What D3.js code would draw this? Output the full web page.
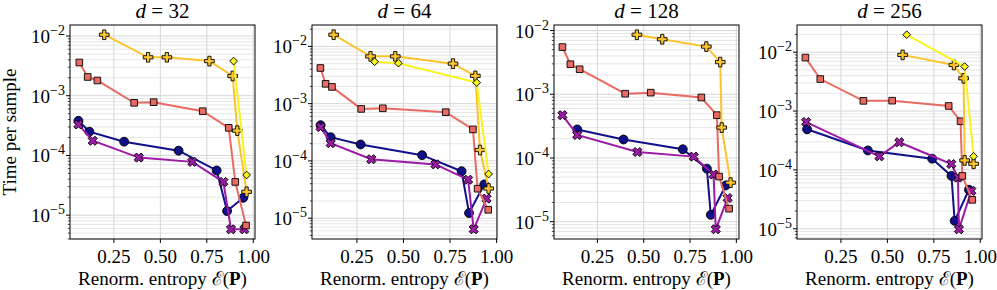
<!DOCTYPE html>
<html>
<head>
<meta charset="utf-8">
<script src="https://cdn.jsdelivr.net/npm/d3@7"></script>
<style>
  body { margin: 0; background: #fff; }
  text { font-family: "Liberation Serif", "DejaVu Serif", serif; fill: #000; }
</style>
</head>
<body>
<svg id="chart" width="997" height="290"></svg>
<script>
// dimensions of each panel
var dims = [32, 64, 128, 256];

// navy circles
var navyX = [[0.059, 0.118, 0.305, 0.598, 0.803, 0.859, 0.946],
             [0.055, 0.109, 0.270, 0.600, 0.812, 0.852, 0.934],
             [0.141, 0.391, 0.711, 0.841, 0.862, 0.943],
             [0.068, 0.395, 0.741, 0.845, 0.862, 0.939]];
var navyY = [[3.8e-4, 2.5e-4, 1.7e-4, 1.2e-4, 5.6e-5, 1.17e-5, 1.95e-5],
             [4.2e-4, 2.6e-4, 1.94e-4, 1.26e-4, 6.6e-5, 1.23e-5, 3.9e-5],
             [2.8e-4, 1.95e-4, 1.37e-4, 6.8e-5, 1.28e-5, 3.7e-5],
             [4.9e-4, 2.14e-4, 1.55e-4, 7.9e-5, 1.36e-5, 4.6e-5]];

// purple crosses
var purpleX = [[0.059, 0.136, 0.384, 0.672, 0.839, 0.880, 0.952],
               [0.055, 0.109, 0.327, 0.672, 0.847, 0.877, 0.946],
               [0.061, 0.141, 0.466, 0.770, 0.877, 0.889, 0.953],
               [0.063, 0.457, 0.564, 0.844, 0.880, 0.885, 0.952]];
var purpleY = [[3.3e-4, 1.76e-4, 9.2e-5, 7.8e-5, 3.6e-5, 5.8e-6, 5.8e-6],
               [3.9e-4, 2.04e-4, 1.07e-4, 8.7e-5, 4.7e-5, 6.4e-6, 2.2e-5],
               [4.7e-4, 2.3e-4, 1.24e-4, 1.05e-4, 5.5e-5, 7.6e-6, 2.35e-5],
               [6.5e-4, 1.7e-4, 2.95e-4, 1.26e-4, 7.4e-5, 9.8e-6, 4.4e-5]];

// salmon squares
var salmonX = [[0.064, 0.109, 0.161, 0.359, 0.464, 0.728, 0.868, 0.903, 0.961],
               [0.054, 0.082, 0.116, 0.273, 0.389, 0.727, 0.873, 0.898, 0.955],
               [0.061, 0.104, 0.154, 0.400, 0.538, 0.811, 0.895, 0.907, 0.961],
               [0.059, 0.139, 0.371, 0.526, 0.830, 0.894, 0.903, 0.957]];
var salmonY = [[3.6e-3, 2.06e-3, 1.8e-3, 7.6e-4, 7.8e-4, 5.5e-4, 2.9e-4, 3.6e-5, 6.7e-6],
               [4.2e-3, 2.22e-3, 1.96e-3, 8.1e-4, 8.3e-4, 7.1e-4, 3.56e-4, 3.27e-5, 1.4e-5],
               [5.5e-3, 2.96e-3, 2.47e-3, 1.02e-3, 1.06e-3, 8.9e-4, 4.7e-4, 5.1e-5, 1.6e-5],
               [8.1e-3, 3.5e-3, 1.49e-3, 1.5e-3, 1.22e-3, 6.7e-4, 7.9e-5, 3.1e-5]];

// orange plus
var orangeX = [[0.198, 0.434, 0.535, 0.764, 0.889, 0.914, 0.964],
               [0.125, 0.323, 0.456, 0.766, 0.886, 0.911, 0.957],
               [0.463, 0.600, 0.838, 0.913, 0.921, 0.969],
               [0.582, 0.858, 0.910, 0.916, 0.964]];
var orangeY = [[1.05e-2, 4.4e-3, 4.4e-3, 3.8e-3, 2.14e-3, 2.6e-4, 2.46e-5],
               [1.6e-2, 6.7e-3, 6.7e-3, 5.0e-3, 3.06e-3, 1.55e-4, 3.3e-5],
               [8.6e-3, 7.3e-3, 5.6e-3, 3.2e-3, 3.0e-4, 4.1e-5],
               [9.0e-3, 6.07e-3, 3.6e-3, 1.45e-4, 1.27e-4]];

// yellow diamonds
var yellowX = [[0.894, 0.964],
               [0.345, 0.473, 0.893, 0.957],
               [],
               [0.604, 0.916, 0.964]];
var yellowY = [[3.8e-3, 4.7e-5],
               [5.4e-3, 5.1e-3, 2.33e-3, 5.9e-5],
               [],
               [1.98e-2, 5.7e-3, 1.7e-4]];

var xTicks = [0.25, 0.50, 0.75, 1.00];

var series = [
  {xs: navyX, ys: navyY, color: "#10108a", shape: "circle"},
  {xs: purpleX, ys: purpleY, color: "#9c1aa6", shape: "x"},
  {xs: salmonX, ys: salmonY, color: "#e86b63", shape: "square"},
  {xs: orangeX, ys: orangeY, color: "#fcc42c", shape: "plus"},
  {xs: yellowX, ys: yellowY, color: "#f6f41c", shape: "diamond"}
];

var svg = d3.select("#chart");
var lefts = [70, 312, 554, 797];
var pw = 185, panelTop = 25, ph = 214;

function symbolPath(shape) {
  if (shape === "circle") return d3.symbol(d3.symbolCircle, 62)();
  if (shape === "square") return d3.symbol(d3.symbolSquare, 44)();
  if (shape === "plus" || shape === "x") return d3.symbol(d3.symbolCross, 52)();
  return d3.symbol(d3.symbolSquare, 30)();
}
function symbolRot(shape) {
  return (shape === "x" || shape === "diamond") ? 45 : 0;
}

dims.forEach(function(d, i) {
  var g = svg.append("g").attr("transform", "translate(" + lefts[i] + "," + panelTop + ")");

  // limits with 5% margins like matplotlib
  var allX = [], allY = [];
  series.forEach(function(s) { allX = allX.concat(s.xs[i]); allY = allY.concat(s.ys[i]); });
  var x0 = d3.min(allX), x1 = d3.max(allX), xr = x1 - x0;
  var l0 = Math.log10(d3.min(allY)), l1 = Math.log10(d3.max(allY)), lr = l1 - l0;

  var x = d3.scaleLinear().domain([x0 - 0.05 * xr, x1 + 0.05 * xr]).range([0, pw]);
  var y = d3.scaleLog().domain([Math.pow(10, l0 - 0.05 * lr), Math.pow(10, l1 + 0.05 * lr)]).range([ph, 0]);

  // minor / major y values
  var minor = [], major = [];
  for (var k = Math.floor(l0 - 1); k <= Math.ceil(l1 + 1); k++) {
    for (var m = 1; m <= 9; m++) {
      var v = m * Math.pow(10, k);
      if (v >= y.domain()[0] && v <= y.domain()[1]) (m === 1 ? major : minor).push(v);
    }
  }

  // grid
  g.selectAll(".ymin").data(minor).enter().append("line")
    .attr("x1", 0).attr("x2", pw).attr("y1", y).attr("y2", y)
    .attr("stroke", "#e3e3e3").attr("stroke-width", 0.9);
  g.selectAll(".ymaj").data(major).enter().append("line")
    .attr("x1", 0).attr("x2", pw).attr("y1", y).attr("y2", y)
    .attr("stroke", "#d6d6d6").attr("stroke-width", 1);
  g.selectAll(".xg").data(xTicks).enter().append("line")
    .attr("x1", x).attr("x2", x).attr("y1", 0).attr("y2", ph)
    .attr("stroke", "#d6d6d6").attr("stroke-width", 1);

  // series
  series.forEach(function(s) {
    var pts = s.xs[i].map(function(v, j) { return [v, s.ys[i][j]]; });
    if (!pts.length) return;
    g.append("path").datum(pts)
      .attr("fill", "none").attr("stroke", s.color).attr("stroke-width", 2)
      .attr("d", d3.line().x(function(p) { return x(p[0]); }).y(function(p) { return y(p[1]); }));
    g.selectAll(null).data(pts).enter().append("path")
      .attr("d", symbolPath(s.shape))
      .attr("transform", function(p) { return "translate(" + x(p[0]) + "," + y(p[1]) + ") rotate(" + symbolRot(s.shape) + ")"; })
      .attr("fill", s.color).attr("stroke", "#000").attr("stroke-width", 0.9);
  });

  // frame
  g.append("rect").attr("width", pw).attr("height", ph)
    .attr("fill", "none").attr("stroke", "#000").attr("stroke-width", 1);

  // x ticks
  g.selectAll(".xt").data(xTicks).enter().append("line")
    .attr("x1", x).attr("x2", x).attr("y1", ph).attr("y2", ph + 4)
    .attr("stroke", "#000");
  g.selectAll(".xl").data(xTicks).enter().append("text")
    .attr("x", x).attr("y", ph + 24)
    .attr("text-anchor", "middle").attr("font-size", 19)
    .text(function(v) { return v.toFixed(2); });

  // y ticks
  g.selectAll(".ymt").data(minor).enter().append("line")
    .attr("x1", -2.2).attr("x2", 0).attr("y1", y).attr("y2", y)
    .attr("stroke", "#000").attr("stroke-width", 0.7);
  g.selectAll(".yMt").data(major).enter().append("line")
    .attr("x1", -4).attr("x2", 0).attr("y1", y).attr("y2", y)
    .attr("stroke", "#000");
  var yl = g.selectAll(".yl").data(major).enter().append("text")
    .attr("x", -5).attr("y", function(v) { return y(v) + 7; })
    .attr("text-anchor", "end").attr("font-size", 19);
  yl.append("tspan").text("10");
  yl.append("tspan").attr("dy", -8).attr("font-size", 14)
    .text(function(v) { return "\u2212" + Math.round(-Math.log10(v)); });

  // title
  var t = g.append("text").attr("x", pw / 2).attr("y", -7)
    .attr("text-anchor", "middle").attr("font-size", 21);
  t.append("tspan").attr("font-style", "italic").text("d");
  t.append("tspan").text(" = " + d);

  // x label
  var xl = g.append("text").attr("x", pw / 2).attr("y", ph + 46)
    .attr("text-anchor", "middle").attr("font-size", 19);
  xl.append("tspan").text("Renorm. entropy ");
  xl.append("tspan").text("\u2130");
  xl.append("tspan").text("(");
  xl.append("tspan").attr("font-weight", "bold").text("P");
  xl.append("tspan").text(")");

  if (i === 0) {
    g.append("text").attr("transform", "translate(" + (-54) + "," + (ph / 2) + ") rotate(-90)")
      .attr("text-anchor", "middle").attr("font-size", 19)
      .text("Time per sample");
  }
});
</script>
</body>
</html>
